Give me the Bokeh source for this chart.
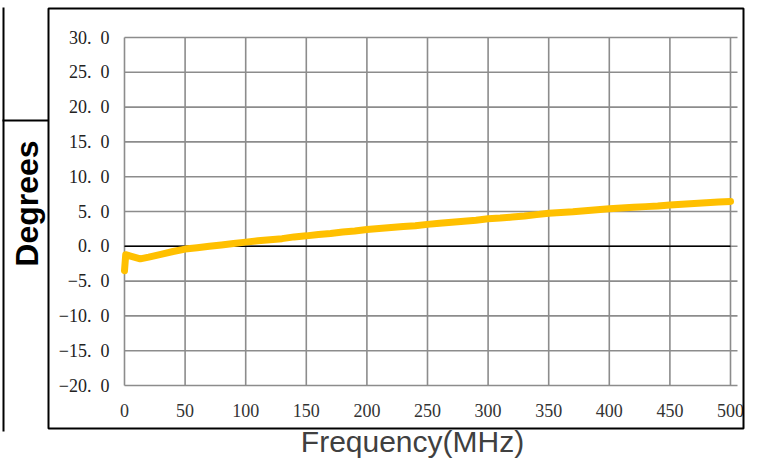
import math
from bokeh.plotting import figure
from bokeh.models import BoxAnnotation, Label, Range1d
from bokeh.embed import file_html
from bokeh.resources import INLINE

# ---- data ----
freq_mhz = [0, 1, 5, 13, 20, 30, 40, 50, 60, 70, 80, 90, 100, 110, 120, 130, 140,
            150, 160, 170, 180, 190, 200, 210, 220, 230, 240, 250, 260, 270, 280,
            290, 300, 310, 320, 330, 340, 350, 360, 370, 380, 390, 400, 410, 420,
            430, 440, 450, 460, 470, 480, 490, 500]
phase_deg = [-3.5, -1.2, -1.4, -1.8, -1.55, -1.15, -0.75, -0.4, -0.2, 0.0, 0.2, 0.4,
             0.6, 0.8, 0.95, 1.1, 1.35, 1.5, 1.7, 1.85, 2.05, 2.2, 2.4, 2.55, 2.7,
             2.85, 2.95, 3.15, 3.3, 3.45, 3.6, 3.75, 3.95, 4.05, 4.2, 4.35, 4.55,
             4.75, 4.85, 4.95, 5.1, 5.25, 5.4, 5.5, 5.6, 5.7, 5.8, 5.95, 6.05, 6.15,
             6.25, 6.35, 6.45]
x_ticks = [0, 50, 100, 150, 200, 250, 300, 350, 400, 450, 500]
x_tick_labels = ["0", "50", "100", "150", "200", "250", "300", "350", "400", "450", "500"]
y_ticks = [-20, -15, -10, -5, 0, 5, 10, 15, 20, 25, 30]
y_tick_labels = ["\u221220.\u20020", "\u221215.\u20020", "\u221210.\u20020",
                 "\u22125.\u20020", "0.\u20020", "5.\u20020", "10.\u20020",
                 "15.\u20020", "20.\u20020", "25.\u20020", "30.\u20020"]
x_label = "Frequency(MHz)"
y_label = "Degrees"

# ---- layout (canvas pixels) ----
W, H = 745, 459
PL, PR, PT, PB = 124, 730, 37, 385      # plot area: x 0..500, y -20..30
kx = (PR - PL) / (x_ticks[-1] - x_ticks[0])
ky = (PB - PT) / (y_ticks[-1] - y_ticks[0])
x0 = x_ticks[0] - PL / kx
y1 = y_ticks[-1] + PT / ky

p = figure(width=W, height=H, output_backend="svg", toolbar_location=None,
           x_range=Range1d(x0, x0 + W / kx), y_range=Range1d(y1 - H / ky, y1),
           x_axis_location=None, y_axis_location=None,
           min_border=0, min_border_left=0, min_border_right=0,
           min_border_top=0, min_border_bottom=0)
p.outline_line_color = None
p.xgrid.visible = False
p.ygrid.visible = False
p.background_fill_color = "white"
p.border_fill_color = "white"

grid_color = "#8c8c8c"
n_x, n_y = len(x_ticks), len(y_ticks)
# vertical grid lines
p.segment(x0=x_ticks, y0=[y_ticks[0]] * n_x, x1=x_ticks, y1=[y_ticks[-1]] * n_x,
          line_color=grid_color, line_width=1.6)
# horizontal grid lines (run a little past the last vertical line)
p.segment(x0=[x_ticks[0]] * n_y, y0=y_ticks, x1=[x_ticks[-1] + 7 / kx] * n_y,
          y1=y_ticks, line_color=grid_color, line_width=1.6)

# zero line
p.line([x_ticks[0], x_ticks[-1]], [0, 0], line_color="black", line_width=1.6)

# data line
p.line(freq_mhz, phase_deg, line_color="#FFC000", line_width=7,
       line_cap="round", line_join="round")

# tick labels
p.text(x=[x_ticks[0]] * n_y, y=y_ticks, text=y_tick_labels, x_offset=-15, y_offset=0,
       text_align="right", text_baseline="middle",
       text_font={"value": "Liberation Serif"}, text_font_size="18px",
       text_color="#222222")
p.text(x=x_ticks, y=[y_ticks[0]] * n_x, text=x_tick_labels, y_offset=25,
       text_align="center", text_baseline="middle",
       text_font={"value": "Liberation Serif"}, text_font_size="18px",
       text_color="#333333")

# axis titles
p.add_layout(Label(x=26, y=203, x_units="canvas", y_units="canvas", text=y_label,
                   angle=math.pi / 2, text_align="center", text_baseline="middle",
                   text_font="Liberation Sans", text_font_style="bold",
                   text_font_size="32px", text_color="black"))
p.add_layout(Label(x=412, y=441, x_units="canvas", y_units="canvas", text=x_label,
                   text_align="center", text_baseline="middle",
                   text_font="Liberation Sans", text_font_size="30px",
                   text_color="#404040"))


def box(l, r, t, b, **kw):
    p.add_layout(BoxAnnotation(left=l, right=r, top=t, bottom=b,
                               left_units="canvas", right_units="canvas",
                               top_units="canvas", bottom_units="canvas", **kw))


# outer frame around the chart
box(48, 743, 8, 428, fill_alpha=0, line_color="black", line_width=2, line_alpha=1)
# neighbouring frame pieces on the left
box(2, 4, 7, 431, fill_color="black", fill_alpha=1, line_alpha=0)
box(2, 48, 119, 121, fill_color="black", fill_alpha=1, line_alpha=0)

open("out.html", "w").write(file_html(p, INLINE))
